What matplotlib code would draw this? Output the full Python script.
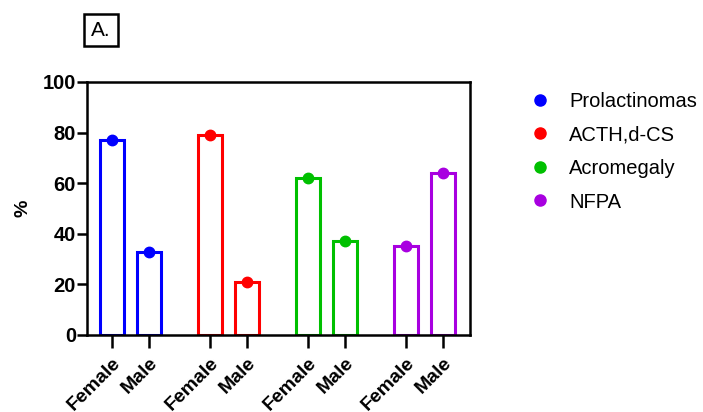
import numpy as np
import matplotlib
matplotlib.use("Agg")
import matplotlib.pyplot as plt
import matplotlib.transforms as mtransforms
from matplotlib.lines import Line2D

plt.rcParams['font.family'] = ['Liberation Sans', 'DejaVu Sans']

# data
groups = ['Prolactinomas', 'ACTH,d-CS', 'Acromegaly', 'NFPA']
colors = ['#0000FF', '#FF0000', '#00C000', '#A800E0']
sexes = ['Female', 'Male']
female_pct = [77, 79, 62, 35]
male_pct = [33, 21, 37, 64]

fig = plt.figure(figsize=(7.03, 4.12), dpi=100)
ax = fig.add_axes([87 / 703, 1 - 335 / 412, (470 - 87) / 703, (335 - 82) / 412])

group_gap = 2.65
positions, labels = [], []
for i, (col, f, m) in enumerate(zip(colors, female_pct, male_pct)):
    x0 = i * group_gap
    for dx, val in zip([0, 1], [f, m]):
        ax.bar(x0 + dx, val, width=0.63, facecolor='white', edgecolor=col,
               linewidth=2.2, zorder=2)
        ax.plot(x0 + dx, val, 'o', color=col, markersize=7.5, zorder=3, clip_on=False)
    positions += [x0, x0 + 1]
    labels += sexes

ax.set_xlim(-0.68, 3 * group_gap + 1 + 0.73)
ax.set_ylim(0, 100)
ax.set_yticks([0, 20, 40, 60, 80, 100])
ax.set_xticks(positions)
ax.set_xticklabels(labels, rotation=45, ha='right', rotation_mode='anchor',
                   fontsize=14, fontweight='bold')
# nudge rotated labels so their ends sit under the ticks
shift = mtransforms.ScaledTranslation(-5 / 100, 4 / 100, fig.dpi_scale_trans)
for t in ax.get_xticklabels():
    t.set_transform(t.get_transform() + shift)
for t in ax.get_yticklabels():
    t.set_fontweight('bold')
    t.set_fontsize(14.5)
ax.tick_params(axis='y', width=1.8, length=7, pad=1)
ax.tick_params(axis='x', width=1.8, length=9, pad=5)
for sp in ax.spines.values():
    sp.set_linewidth(1.8)
ax.set_ylabel('%', fontsize=14, fontweight='bold')
ax.yaxis.set_label_coords((31 - 87) / 383, 0.5)

# legend
handles = [Line2D([], [], marker='o', linestyle='none', color=c, markersize=8)
           for c in colors]
fig.legend(handles, groups, loc='upper left', bbox_to_anchor=(530 / 703, 1 - 92 / 412),
           frameon=False, fontsize=14.5, handlelength=1.0, handletextpad=0.95,
           labelspacing=0.72, borderaxespad=0, borderpad=0)

# panel label
fig.text(101 / 703, 1 - 30 / 412, 'A.', fontsize=15, va='center', ha='center',
         bbox=dict(boxstyle='square,pad=0.33', facecolor='white', edgecolor='black', linewidth=1.8))

fig.savefig('out.png', dpi=100)
